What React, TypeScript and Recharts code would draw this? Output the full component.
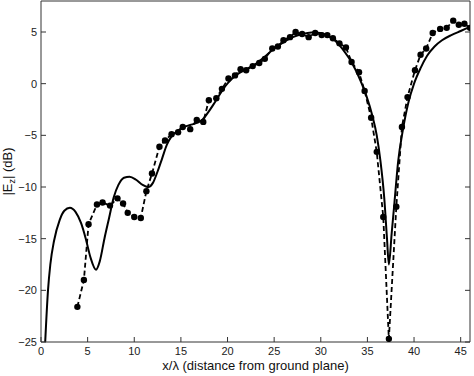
import React from "react";
import { LineChart, Line, XAxis, YAxis } from "recharts";

// theory (solid line)
const theoryX = [
  0.45, 0.75, 1.0, 1.4, 2.0, 2.5, 3.1, 3.7, 4.3, 4.8, 5.3, 5.9, 6.3, 6.8, 7.3,
  7.8, 8.3, 8.9, 9.5, 10.2, 10.9, 11.5, 12.0, 12.5, 13.0, 13.5, 14.0, 14.6,
  15.3, 16.0, 16.7, 17.3, 17.9, 18.5, 19.2, 19.8, 20.5, 21.2, 22.0, 23.0, 24.0,
  25.0, 26.0, 27.0, 28.0, 29.0, 30.0, 30.8, 31.6, 32.3, 33.0, 33.7, 34.3, 34.9,
  35.5, 36.0, 36.4, 36.8, 37.1, 37.3, 37.6, 37.9, 38.3, 38.8, 39.4, 40.0, 40.7,
  41.4, 42.2, 43.0, 44.0, 45.0, 46.0,
];
const theoryDb = [
  -25, -20, -17.5, -15.2, -13.2, -12.3, -12.0, -12.4, -13.5, -15.0, -16.8,
  -18.0, -17.2, -15.0, -13.0, -11.0, -9.8, -9.1, -9.0, -9.3, -9.8, -10.0, -9.6,
  -8.5, -7.2, -5.9, -5.1, -4.6, -4.2, -4.0, -3.8, -3.5, -2.8, -2.0, -1.0, -0.2,
  0.5, 1.0, 1.4, 1.9, 2.6, 3.4, 4.0, 4.5, 4.8, 4.95, 4.9, 4.6, 4.1, 3.4, 2.5,
  1.4, 0.2, -1.2, -3.0, -5.0, -7.5, -11.0, -15.0, -17.5, -14.5, -11.5, -7.5,
  -4.5, -1.8, 0.0, 1.5, 2.7, 3.6, 4.2, 4.7, 5.1, 5.5,
];

// measurement (dashed line with dots)
const measuredX = [
  3.9, 4.6, 5.1, 6.0, 6.6, 7.4, 8.2, 8.8, 9.3, 10.0, 10.7, 11.3, 11.9, 12.7,
  13.3, 14.0, 14.7, 15.2, 16.0, 16.7, 17.4, 18.0, 18.8, 19.4, 20.1, 20.8, 21.4,
  22.0, 22.7, 23.4, 24.0, 24.8, 25.4, 26.0, 26.7, 27.3, 28.0, 28.7, 29.4, 30.1,
  30.7, 31.3, 32.0, 32.7, 33.3, 34.1, 34.7, 35.4, 36.0, 36.7, 37.3, 38.1, 38.7,
  39.3, 40.1, 40.7, 41.3, 42.0, 42.8, 43.5, 44.2, 44.8, 45.4, 46.0,
];
const measuredDb = [
  -21.6, -19.0, -13.6, -11.7, -11.5, -11.8, -11.1, -11.6, -12.5, -12.9, -13.0,
  -10.4, -8.7, -6.1, -5.5, -4.9, -4.7, -4.2, -4.4, -3.5, -3.7, -1.6, -1.4, -0.5,
  0.5, 0.8, 1.4, 1.3, 1.7, 2.0, 2.4, 3.4, 3.6, 4.2, 4.5, 5.0, 4.8, 4.5, 4.9,
  4.7, 4.7, 4.4, 3.9, 3.5, 2.1, 1.1, -0.7, -3.3, -6.6, -12.9, -24.7, -11.9,
  -4.2, -1.3, 1.3, 2.8, 3.4, 4.9, 5.3, 5.4, 6.1, 5.7, 5.8, 5.4,
];

const xTicks = [0, 5, 10, 15, 20, 25, 30, 35, 40, 45];
const yTicks = [-25, -20, -15, -10, -5, 0, 5];

const theory = theoryX.map((x, i) => ({ x, y: theoryDb[i] }));
const measured = measuredX.map((x, i) => ({ x, y: measuredDb[i] }));

const FONT = "'Liberation Sans', Arial, Helvetica, sans-serif";
const AXIS = "#333";
const TICK_LEN = 5;
const GAP = 4;

const fmt = (v: number) => (v < 0 ? "\u2212" + Math.abs(v) : String(v));

function LeftTick({ x, y, payload }: any) {
  return (
    <g>
      <line x1={x + GAP} x2={x + GAP + TICK_LEN} y1={y} y2={y} stroke={AXIS} />
      <text x={x} y={y} dy={4} textAnchor="end" fontSize={11} fill="#222" fontFamily={FONT}>
        {fmt(payload.value)}
      </text>
    </g>
  );
}

function BottomTick({ x, y, payload }: any) {
  return (
    <g>
      <line x1={x} x2={x} y1={y - GAP} y2={y - GAP - TICK_LEN} stroke={AXIS} />
      <text x={x} y={y} dy={9} textAnchor="middle" fontSize={11} fill="#222" fontFamily={FONT}>
        {fmt(payload.value)}
      </text>
    </g>
  );
}

function TopTick({ x, y }: any) {
  return <line x1={x} x2={x} y1={y} y2={y + TICK_LEN} stroke={AXIS} />;
}

function RightTick({ x, y }: any) {
  return <line x1={x} x2={x - TICK_LEN} y1={y} y2={y} stroke={AXIS} />;
}

function YLabel({ viewBox }: any) {
  const cx = viewBox.x + 12;
  const cy = viewBox.y + viewBox.height / 2;
  return (
    <text
      x={cx}
      y={cy}
      transform={`rotate(-90 ${cx} ${cy})`}
      textAnchor="middle"
      fontSize={13}
      fill="#111"
      fontFamily={FONT}
    >
      |E
      <tspan fontSize={9} dy={3}>z</tspan>
      <tspan dy={-3}>| (dB)</tspan>
    </text>
  );
}

function XLabel({ viewBox }: any) {
  return (
    <text
      x={viewBox.x + viewBox.width / 2}
      y={viewBox.y + 28}
      textAnchor="middle"
      fontSize={13}
      fill="#111"
      fontFamily={FONT}
    >
      x/λ (distance from ground plane)
    </text>
  );
}

export default function App() {
  return (
    <div style={{ position: "absolute", left: 0, top: 0, width: 474, height: 376, background: "#fff" }}>
      <LineChart width={474} height={376} margin={{ top: 0, right: 3, bottom: 0, left: 0 }}>
        <XAxis
          xAxisId="main"
          dataKey="x"
          type="number"
          domain={[0, 46]}
          ticks={xTicks}
          allowDataOverflow
          height={34}
          tickSize={0}
          tickMargin={GAP}
          tickLine={false}
          axisLine={{ stroke: AXIS }}
          tick={BottomTick}
          label={<XLabel />}
        />
        <XAxis
          xAxisId="top"
          orientation="top"
          type="number"
          domain={[0, 46]}
          ticks={xTicks}
          allowDataOverflow
          height={1}
          tickSize={0}
          tickMargin={0}
          tickLine={false}
          axisLine={{ stroke: AXIS }}
          tick={TopTick}
        />
        <YAxis
          yAxisId="main"
          type="number"
          domain={[-25, 8]}
          ticks={yTicks}
          allowDataOverflow
          width={41}
          tickSize={0}
          tickMargin={GAP}
          tickLine={false}
          axisLine={{ stroke: AXIS }}
          tick={LeftTick}
          label={<YLabel />}
        />
        <YAxis
          yAxisId="right"
          orientation="right"
          type="number"
          domain={[-25, 8]}
          ticks={yTicks}
          allowDataOverflow
          width={1}
          tickSize={0}
          tickMargin={0}
          tickLine={false}
          axisLine={{ stroke: AXIS }}
          tick={RightTick}
        />
        <Line
          xAxisId="main"
          yAxisId="main"
          data={theory}
          dataKey="y"
          type="monotone"
          stroke="#000"
          strokeWidth={2}
          dot={false}
          isAnimationActive={false}
        />
        <Line
          xAxisId="main"
          yAxisId="main"
          data={measured}
          dataKey="y"
          type="linear"
          stroke="#000"
          strokeWidth={1.8}
          strokeDasharray="5 3"
          dot={{ r: 3.2, fill: "#000", stroke: "#000", strokeWidth: 0 }}
          isAnimationActive={false}
        />
      </LineChart>
    </div>
  );
}
